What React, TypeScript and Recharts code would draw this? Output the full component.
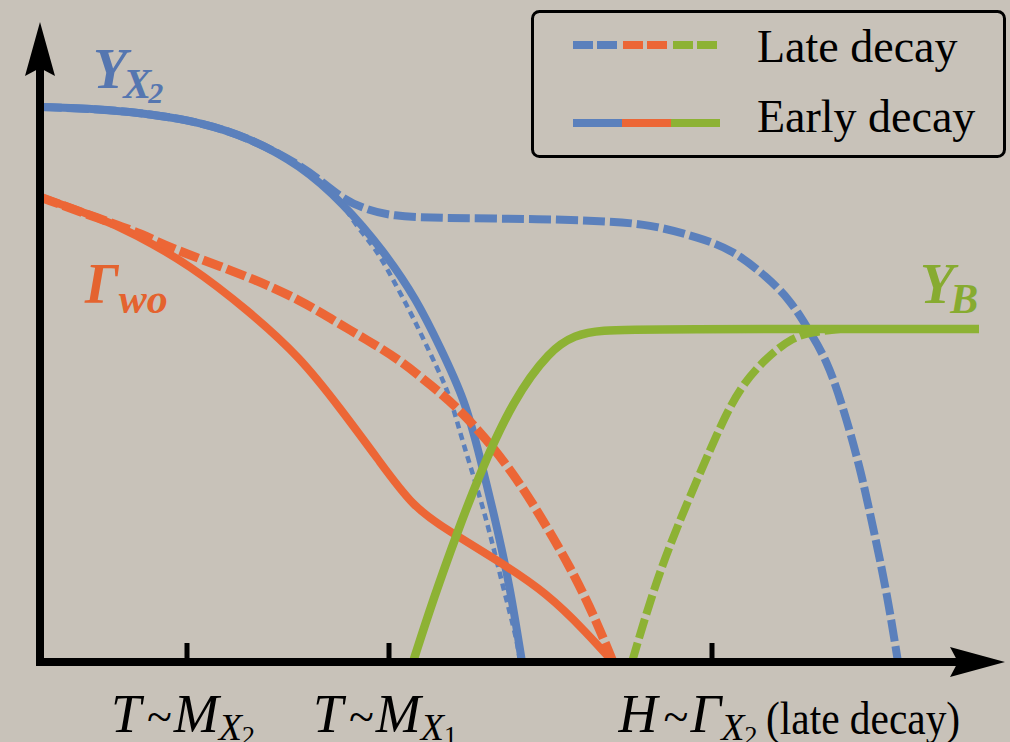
import React from "react";
import {
  LineChart,
  Line,
  XAxis,
  YAxis,
  ReferenceLine,
  ReferenceDot,
  Legend,
} from "recharts";

const BLUE = "#5b80bc";
const ORANGE = "#ec6636";
const GREEN = "#8db234";
const BG = "#c8c2b9";
const SERIF = "'Liberation Serif', 'DejaVu Serif', serif";

// schematic units: x = time (0..965), y = abundance (0..640)
const yX2Early = [[0, 555], [60, 553], [110, 548], [160, 540], [210, 524], [260, 497], [303, 459], [343, 412], [377, 362], [400, 315], [425, 262], [440, 205], [457, 135], [470, 75], [482, 0]];
const yX2Late = [[0, 555], [60, 553], [110, 548], [160, 540], [210, 524], [260, 497], [280, 482], [303, 463], [327, 452], [353, 446], [393, 444], [507, 443], [560, 441], [610, 438], [660, 424], [693, 412], [727, 385], [750, 362], [767, 335], [787, 302], [803, 255], [820, 195], [833, 135], [847, 69], [858, 0]];
const yX2Dotted = [[300, 462], [317, 435], [337, 412], [357, 375], [373, 345], [390, 309], [403, 282], [412, 259], [423, 219], [437, 175], [450, 129], [463, 75], [477, 22], [480, 0]];
const gammaEarly = [[0, 465], [60, 444], [93, 429], [150, 397], [210, 350], [260, 305], [300, 254], [340, 200], [373, 155], [407, 132], [457, 102], [507, 69], [547, 29], [573, 0]];
const gammaLate = [[0, 465], [60, 443], [103, 428], [127, 415], [210, 385], [260, 362], [293, 342], [327, 322], [360, 302], [393, 275], [417, 255], [450, 219], [480, 179], [507, 135], [530, 95], [550, 55], [567, 15], [573, 0]];
const yBEarly = [[373, 0], [393, 62], [417, 129], [440, 189], [473, 262], [510, 312], [535, 327], [560, 332], [610, 333], [939, 333]];
const yBLate = [[592, 0], [620, 95], [660, 189], [680, 235], [700, 275], [727, 305], [753, 325], [773, 330], [800, 333]];

const tickValues = [147, 349, 672];
const tickLabels = [
  { lead: "T", sym: "M", sub: "X", subsub: "2", note: "", shift: -4 },
  { lead: "T", sym: "M", sub: "X", subsub: "1", note: "", shift: -4 },
  { lead: "H", sym: "Γ", sub: "X", subsub: "2", note: "(late decay)", shift: -24 },
];

const legendRows = [
  { label: "Late decay", dashed: true },
  { label: "Early decay", dashed: false },
];
const seriesColors = [BLUE, ORANGE, GREEN];

const curveLabels = [
  { x: 53, y: 574, main: "Y", sub: "X", subsub: "2", color: "#5576b0" },
  { x: 45, y: 359, main: "Γ", sub: "wo", subsub: "", color: "#e4632f" },
  { x: 880, y: 359, main: "Y", sub: "B", subsub: "", color: "#87ab30" },
];

const pts = (rows: number[][]) => rows.map(([x, y]) => ({ x, y }));

function AxisTick({ x, y, payload }: any) {
  const lab = tickLabels[tickValues.indexOf(payload.value)];
  if (!lab) return null;
  return (
    <g>
      <line x1={x} x2={x} y1={y} y2={y - 19} stroke="#000" strokeWidth={5} />
      <text x={x + lab.shift} y={y + 70} textAnchor="middle" fontFamily={SERIF} fontSize={54} fill="#000">
        <tspan fontStyle="italic">{lab.lead}</tspan>
        <tspan dx={6} fontSize={46}>~</tspan>
        <tspan dx={2} fontStyle="italic">{lab.sym}</tspan>
        <tspan fontStyle="italic" fontSize={38} dy={8}>{lab.sub}</tspan>
        <tspan fontSize={26} dy={4}>{lab.subsub}</tspan>
      </text>
      {lab.note && (
        <g transform={`translate(${x + 54},${y + 72}) scale(0.9,1)`}>
          <text x={0} y={0} fontFamily={SERIF} fontSize={46} fill="#000">
            {lab.note}
          </text>
        </g>
      )}
    </g>
  );
}

function LegendBox() {
  const lineY = [35, 113];
  const textY = [52, 122];
  return (
    <svg width={476} height={149}>
      <rect x={1.5} y={1.5} width={472} height={145} rx={7} fill="none" stroke="#000" strokeWidth={3} />
      {legendRows.map((row, r) => (
        <g key={row.label}>
          {seriesColors.map((c, k) =>
            row.dashed ? (
              <line key={c} x1={42 + k * 50} x2={86 + k * 50} y1={lineY[r]} y2={lineY[r]} stroke={c} strokeWidth={8} strokeDasharray="20 4" />
            ) : (
              <line key={c} x1={42 + k * 49} x2={91 + k * 49} y1={lineY[r]} y2={lineY[r]} stroke={c} strokeWidth={8} />
            )
          )}
          <text x={226} y={textY[r]} fontFamily={SERIF} fontSize={46} fill="#000">
            {row.label}
          </text>
        </g>
      ))}
    </svg>
  );
}

function CurveLabel({ cx, cy, lab }: any) {
  return (
    <text x={cx} y={cy} fontFamily={SERIF} fontWeight="bold" fontStyle="italic" fontSize={56} fill={lab.color}>
      <tspan>{lab.main}</tspan>
      <tspan fontSize={42} dy={10} dx={lab.main === "Y" ? -4 : 0}>{lab.sub}</tspan>
      {lab.subsub && (
        <tspan fontSize={30} dy={5} dx={-3}>{lab.subsub}</tspan>
      )}
    </text>
  );
}

export default function App() {
  return (
    <div style={{ position: "absolute", left: 0, top: 0, width: 1010, height: 742, background: BG }}>
      <LineChart width={1010} height={742} margin={{ top: 22, right: 5, bottom: 0, left: 40 }}>
        <XAxis
          type="number"
          dataKey="x"
          domain={[0, 965]}
          ticks={tickValues}
          interval={0}
          tick={<AxisTick />}
          tickLine={false}
          axisLine={false}
          tickSize={0}
          tickMargin={0}
          height={80}
        />
        <YAxis type="number" dataKey="y" domain={[0, 640]} hide />

        <Line data={pts(yX2Early)} dataKey="y" type="basis" stroke={BLUE} strokeWidth={8} dot={false} activeDot={false} isAnimationActive={false} />
        <Line data={pts(yX2Dotted)} dataKey="y" type="basis" stroke={BLUE} strokeWidth={4.5} strokeDasharray="7 5" dot={false} activeDot={false} isAnimationActive={false} />
        <Line data={pts(yX2Late)} dataKey="y" type="basis" stroke={BLUE} strokeWidth={8} strokeDasharray="22 5" dot={false} activeDot={false} isAnimationActive={false} />
        <Line data={pts(gammaEarly)} dataKey="y" type="basis" stroke={ORANGE} strokeWidth={8} dot={false} activeDot={false} isAnimationActive={false} />
        <Line data={pts(gammaLate)} dataKey="y" type="basis" stroke={ORANGE} strokeWidth={9} strokeDasharray="20 5" dot={false} activeDot={false} isAnimationActive={false} />
        <Line data={pts(yBEarly)} dataKey="y" type="basis" stroke={GREEN} strokeWidth={8.5} dot={false} activeDot={false} isAnimationActive={false} />
        <Line data={pts(yBLate)} dataKey="y" type="basis" stroke={GREEN} strokeWidth={8} strokeDasharray="20 5" dot={false} activeDot={false} isAnimationActive={false} />

        <ReferenceLine segment={[{ x: 0, y: 0 }, { x: 0, y: 600 }]} stroke="#000" strokeWidth={8} strokeLinecap="square" ifOverflow="visible" />
        <ReferenceLine segment={[{ x: 0, y: 0 }, { x: 925, y: 0 }]} stroke="#000" strokeWidth={8} strokeLinecap="square" ifOverflow="visible" />
        <ReferenceDot
          x={0}
          y={640}
          r={1}
          ifOverflow="visible"
          shape={(p: any) => (
            <polygon points={`${p.cx},${p.cy} ${p.cx - 15},${p.cy + 54} ${p.cx},${p.cy + 46} ${p.cx + 15},${p.cy + 54}`} fill="#000" />
          )}
        />
        <ReferenceDot
          x={965}
          y={0}
          r={1}
          ifOverflow="visible"
          shape={(p: any) => (
            <polygon points={`${p.cx},${p.cy} ${p.cx - 55},${p.cy - 15} ${p.cx - 47},${p.cy} ${p.cx - 55},${p.cy + 15}`} fill="#000" />
          )}
        />
        {curveLabels.map((lab) => (
          <ReferenceDot
            key={lab.main + lab.sub}
            x={lab.x}
            y={lab.y}
            r={1}
            ifOverflow="visible"
            shape={(p: any) => <CurveLabel cx={p.cx} cy={p.cy} lab={lab} />}
          />
        ))}

        <Legend
          layout="vertical"
          align="center"
          verticalAlign="middle"
          content={() => <LegendBox />}
          wrapperStyle={{ left: 531, top: 10, width: 476, height: 149 }}
        />
      </LineChart>
    </div>
  );
}
